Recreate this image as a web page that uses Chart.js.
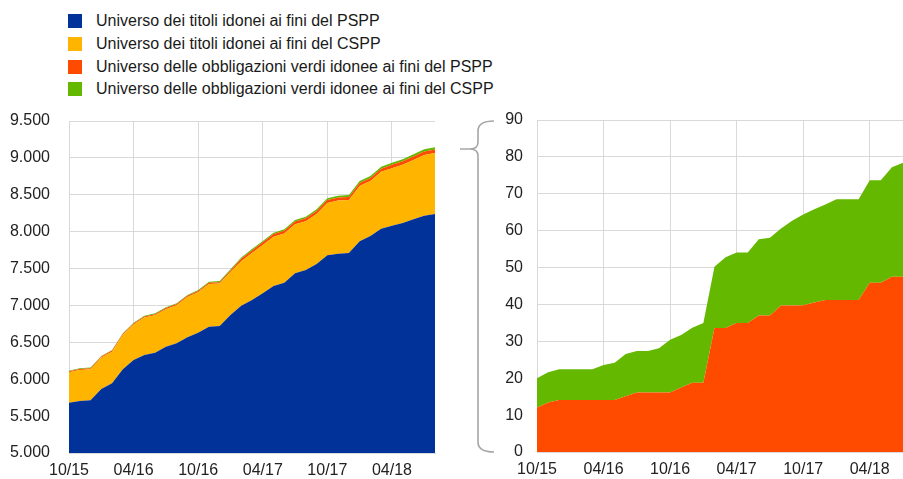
<!DOCTYPE html>
<html><head><meta charset="utf-8">
<script src="https://cdn.jsdelivr.net/npm/chart.js@4.4.1/dist/chart.umd.min.js"></script>
<style>
html,body{margin:0;padding:0;background:#fff;width:903px;height:479px;overflow:hidden;font-family:"Liberation Sans",Arial,sans-serif;}
#c1{position:absolute;left:0;top:0;}
#c2{position:absolute;left:455px;top:0;}
.leg{position:absolute;left:68px;height:22px;display:flex;align-items:center;font-size:16px;color:#1a1a1a;white-space:nowrap;}
.leg .sw{width:14px;height:14px;margin-right:14px;display:inline-block;}
</style></head><body>
<div id="legend"></div>
<canvas id="c1" width="455" height="479"></canvas>
<canvas id="c2" width="448" height="479"></canvas>
<script>
const months = ['10/15','11/15','12/15','01/16','02/16','03/16','04/16','05/16','06/16','07/16','08/16','09/16','10/16','11/16','12/16','01/17','02/17','03/17','04/17','05/17','06/17','07/17','08/17','09/17','10/17','11/17','12/17','01/18','02/18','03/18','04/18','05/18','06/18','07/18','08/18'];
const tickLabels = ['10/15','04/16','10/16','04/17','10/17','04/18'];
const leftTicks = [5000,5500,6000,6500,7000,7500,8000,8500,9000,9500];
const rightTicks = [0,10,20,30,40,50,60,70,80,90];

const pspp = [5682,5705,5714,5867,5944,6134,6260,6328,6360,6441,6486,6568,6631,6712,6721,6870,6997,7074,7164,7263,7308,7436,7480,7562,7679,7702,7711,7869,7941,8040,8081,8117,8167,8216,8239];
const cspp = [413,421,421,426,430,466,482,509,506,507,516,546,548,578,576,585,601,638,656,669,666,664,662,678,709,720,719,750,745,772,780,790,805,823,826];
const greenPspp = [12,13.4,14.1,14.1,14.1,14.1,14.1,14.1,15.1,16.1,16.1,16.1,16.1,17.5,18.8,18.8,33.6,33.6,35,35,37,37,39.7,39.7,39.8,40.5,41.2,41.2,41.2,41.2,45.9,45.9,47.5,47.5,47.5];
const greenCspp = [8,8.2,8.3,8.3,8.3,8.3,9.5,10.1,11.5,11.3,11.3,12,14.3,14.2,14.9,16.2,16.6,19.2,19.1,19.1,20.7,21.1,20.9,23,24.6,25.3,25.9,27.3,27.3,27.3,27.8,27.8,29.7,30.9,31.5];

const seriesNames = ['Universo dei titoli idonei ai fini del PSPP','Universo dei titoli idonei ai fini del CSPP','Universo delle obbligazioni verdi idonee ai fini del PSPP','Universo delle obbligazioni verdi idonee ai fini del CSPP'];
const colors = ['#003299','#FFB400','#FF4B00','#65B800'];

const legTops = [10, 33, 56, 78];
const legEl = document.getElementById('legend');
seriesNames.forEach((n,i)=>{
  const d = document.createElement('div');
  d.className='leg'; d.style.top = legTops[i]+'px';
  d.innerHTML = '<span class="sw" style="background:'+colors[i]+'"></span>'+n;
  legEl.appendChild(d);
});

const FONT = {family:'"Liberation Sans", Arial, sans-serif', size:16};
const GRID = '#d9d9d9';
function fmt(v){ return String(v).replace(/\B(?=(\d{3})+(?!\d))/g,'.'); }
function ds(label, data, color, fill){
  return {label, data, backgroundColor:color, borderColor:color, borderWidth:0, pointRadius:0, fill, tension:0};
}
function xScale(maxLabel, h){
  return {
    type:'category', offset:false, max:maxLabel,
    grid:{color:GRID, drawTicks:false, lineWidth:1},
    border:{color:GRID},
    ticks:{autoSkip:false, maxRotation:0, padding:8, color:'#222', font:FONT,
      callback:function(v,i){ const l=this.getLabelForValue(v); return tickLabels.includes(l)?l:null; }},
    afterFit:(s)=>{ s.height = h; }
  };
}
function yFit(w){ return (s)=>{ s.width = w; s.paddingTop = 0; s.paddingBottom = 0; }; }

new Chart(document.getElementById('c1'), {
  type:'line',
  data:{labels:months, datasets:[
    ds(seriesNames[0], pspp, colors[0], 'start'),
    ds(seriesNames[1], cspp, colors[1], '-1'),
    ds(seriesNames[2], greenPspp, colors[2], '-1'),
    ds(seriesNames[3], greenCspp, colors[3], '-1')
  ]},
  options:{
    responsive:false, animation:false,
    layout:{padding:{top:121, right:20, left:0, bottom:0}},
    plugins:{legend:{display:false}, tooltip:{enabled:false}},
    scales:{
      x: xScale('08/18', 26),
      y:{stacked:true, min:leftTicks[0], max:leftTicks[leftTicks.length-1],
        afterBuildTicks:(s)=>{ s.ticks = leftTicks.map(v=>({value:v})); },
        grid:{color:GRID, drawTicks:false}, border:{color:GRID},
        ticks:{padding:19, color:'#222', font:FONT, callback:(v)=>fmt(v)},
        afterFit: yFit(69)
      }
    }
  }
});

const bracePlugin = {
  id:'brace',
  afterDraw(chart){
    const c = chart.ctx;
    c.save();
    c.strokeStyle = '#a6a6a6'; c.lineWidth = 1.6;
    c.beginPath();
    c.moveTo(39,121); c.quadraticCurveTo(23,121,23,131); c.lineTo(23,142);
    c.quadraticCurveTo(23,149,15,149); c.lineTo(5,149);
    c.moveTo(15,149); c.quadraticCurveTo(23,149,23,156); c.lineTo(23,442);
    c.quadraticCurveTo(23,452,39,452);
    c.stroke();
    c.restore();
  }
};

new Chart(document.getElementById('c2'), {
  type:'line',
  data:{labels:months, datasets:[
    ds(seriesNames[2], greenPspp, colors[2], 'origin'),
    ds(seriesNames[3], greenCspp, colors[3], '-1')
  ]},
  options:{
    responsive:false, animation:false,
    layout:{padding:{top:120, right:0, left:0, bottom:0}},
    plugins:{legend:{display:false}, tooltip:{enabled:false}},
    scales:{
      x: xScale('07/18', 27),
      y:{stacked:true, min:rightTicks[0], max:rightTicks[rightTicks.length-1],
        afterBuildTicks:(s)=>{ s.ticks = rightTicks.map(v=>({value:v})); },
        grid:{color:GRID, drawTicks:false}, border:{color:GRID},
        ticks:{padding:14, color:'#222', font:FONT},
        afterFit: yFit(82)
      }
    }
  },
  plugins:[bracePlugin]
});
</script>
</body></html>
